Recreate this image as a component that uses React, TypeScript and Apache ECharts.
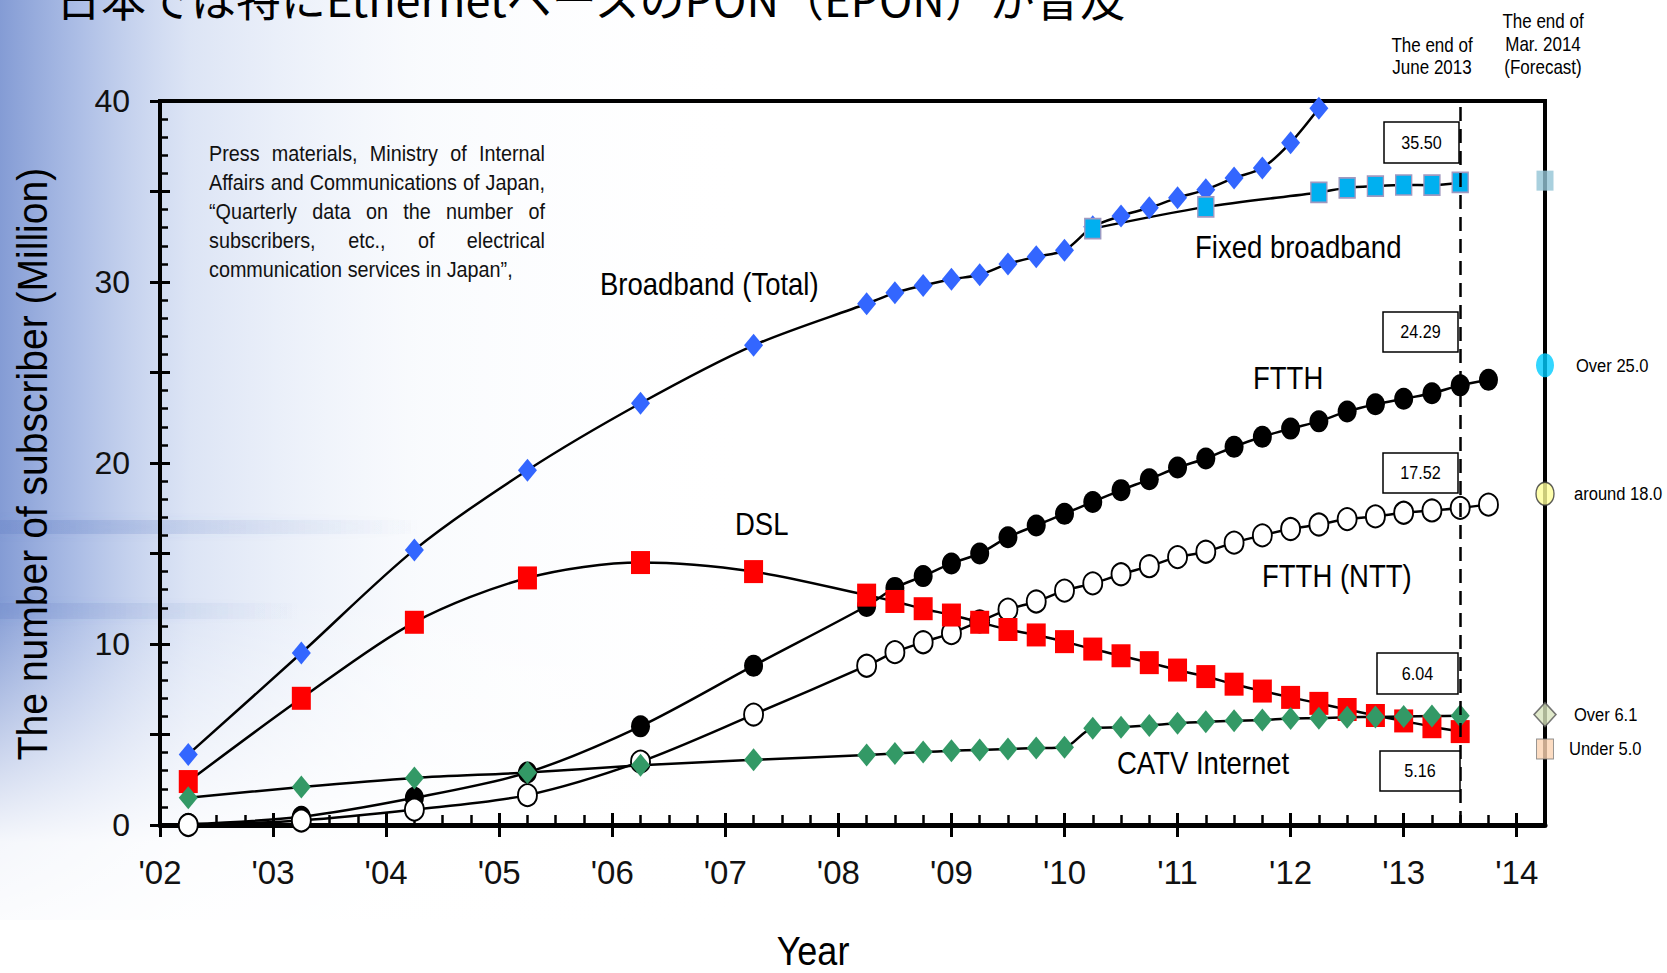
import React, { useEffect, useRef } from 'react';
import * as echarts from 'echarts';

// ---- data (values in million subscribers) ----
const quarters = [2002.25, 2003.25, 2004.25, 2005.25, 2006.25, 2007.25, 2008.25, 2008.5, 2008.75, 2009, 2009.25, 2009.5, 2009.75, 2010, 2010.25, 2010.5, 2010.75, 2011, 2011.25, 2011.5, 2011.75, 2012, 2012.25, 2012.5, 2012.75, 2013, 2013.25, 2013.5, 2013.75];

const broadbandTotal = [3.9, 9.5, 15.2, 19.6, 23.3, 26.5, 28.8, 29.4, 29.8, 30.15, 30.4, 31.0, 31.4, 31.75, 33.05, 33.65, 34.1, 34.65, 35.1, 35.75, 36.3, 37.7, 39.6];
const fixedBroadbandX = [2010.25, 2011.25, 2012.25, 2012.5, 2012.75, 2013, 2013.25, 2013.5];
const fixedBroadband = [32.95, 34.15, 34.95, 35.2, 35.3, 35.36, 35.35, 35.5];
const ftth = [0.05, 0.45, 1.5, 2.9, 5.45, 8.8, 12.1, 13.1, 13.75, 14.45, 15.0, 15.9, 16.55, 17.2, 17.85, 18.5, 19.1, 19.75, 20.25, 20.9, 21.45, 21.9, 22.3, 22.85, 23.25, 23.55, 23.85, 24.29, 24.6];
const ftthNtt = [0.0, 0.25, 0.85, 1.65, 3.5, 6.1, 8.8, 9.55, 10.1, 10.6, 11.25, 11.9, 12.35, 12.95, 13.35, 13.85, 14.3, 14.8, 15.1, 15.6, 16.0, 16.35, 16.6, 16.9, 17.05, 17.25, 17.38, 17.52, 17.7];
const dsl = [2.4, 7.0, 11.2, 13.65, 14.5, 14.0, 12.7, 12.35, 11.95, 11.6, 11.2, 10.8, 10.5, 10.13, 9.72, 9.35, 8.97, 8.56, 8.2, 7.78, 7.4, 7.05, 6.72, 6.38, 6.05, 5.75, 5.43, 5.16];
const catv = [1.5, 2.1, 2.6, 2.9, 3.3, 3.6, 3.87, 3.95, 4.03, 4.1, 4.15, 4.2, 4.25, 4.3, 5.35, 5.4, 5.5, 5.62, 5.7, 5.76, 5.8, 5.88, 5.9, 5.95, 5.97, 6.0, 6.02, 6.04];

const seriesNames = ['Broadband (Total)', 'Fixed broadband', 'FTTH', 'FTTH (NTT)', 'DSL', 'CATV Internet'];

const years = [2002, 2003, 2004, 2005, 2006, 2007, 2008, 2009, 2010, 2011, 2012, 2013, 2014];
const yearLabels = ["'02", "'03", "'04", "'05", "'06", "'07", "'08", "'09", "'10", "'11", "'12", "'13", "'14"];
const yLabelValues = [0, 10, 20, 30, 40];
const yMajorTicks = [0, 5, 10, 15, 20, 25, 30, 35, 40];

const june2013 = 2013.5;
const forecastX = 2014.25;
const forecastValues = [35.6, 25.4, 18.3, 6.1, 4.2];
const forecastLabels = ['', 'Over 25.0', 'around 18.0', 'Over 6.1', 'Under 5.0'];
const boxValues = ['35.50', '24.29', '17.52', '6.04', '5.16'];

const sourceLines = [
  'Press materials, Ministry of Internal',
  'Affairs and Communications of Japan,',
  '\u201CQuarterly data on the number of',
  'subscribers, etc., of electrical',
  'communication services in Japan\u201D,',
];
const titleText = '日本では特にEthernetベースのPON（EPON）が普及';
const yTitle = 'The number of subscriber (Million)';
const xTitle = 'Year';

const SANS = "'Liberation Sans'";

function pairs(xs: number[], ys: number[]) {
  return ys.map((v, i) => [xs[i], v]);
}

export default function App() {
  const ref = useRef<HTMLDivElement>(null);
  useEffect(() => {
    if (!ref.current) return;
    const chart = echarts.init(ref.current, undefined, { renderer: 'svg' });

    const xBase = { type: 'value', min: 2002, max: 2014.25, position: 'bottom', splitLine: { show: false } };
    const yBase = { type: 'value', min: 0, max: 40, position: 'left', splitLine: { show: false } };
    const tickLine = (w: number) => ({ color: '#000', width: w });

    const lineSeries = (name: string, data: number[][], symbol: string, size: number[], itemStyle: any) => ({
      type: 'line', name, data, smooth: 0.3, symbol, symbolSize: size, showSymbol: true,
      lineStyle: { color: '#000', width: 2.5 }, itemStyle, emphasis: { disabled: true },
    });

    const forecastSymbols = ['rect', 'circle', 'circle', 'diamond', 'rect'];
    const forecastSizes = [[17, 20], [18, 24], [18, 23], [22, 24], [17, 20]];
    const forecastStyles = [
      { color: '#93c4d6' },
      { color: '#00ccff' },
      { color: '#ffff99', borderColor: '#333', borderWidth: 1.5 },
      { color: '#d8e4bd', borderColor: '#555', borderWidth: 1.5 },
      { color: '#fbd3b3', borderColor: '#777', borderWidth: 1 },
    ];
    const forecastLabelOffset = [0, 31, 29, 29, 24];

    chart.setOption({
      animation: false,
      grid: {
        left: 160, top: 101, width: 1385, height: 724, show: true,
        borderColor: '#000', borderWidth: 4, backgroundColor: 'transparent',
        outerBoundsMode: 'none', containLabel: false,
      },
      xAxis: [
        {
          ...xBase, interval: 0.25,
          axisLine: { show: true, lineStyle: { color: '#000', width: 5 } },
          axisTick: { show: true, inside: true, length: 10, lineStyle: tickLine(2.5) },
          axisLabel: {
            customValues: years, margin: 31, color: '#111', fontFamily: SANS, fontSize: 33,
            formatter: (v: number) => yearLabels[years.indexOf(Math.round(v))] ?? '',
          },
        },
        {
          ...xBase, interval: 1, axisLine: { show: false },
          axisTick: { show: true, customValues: years, inside: false, length: 12, lineStyle: tickLine(3) },
          axisLabel: { show: false },
        },
        {
          ...xBase, interval: 1, axisLine: { show: false },
          axisTick: { show: true, customValues: years, inside: true, length: 12, lineStyle: tickLine(3) },
          axisLabel: { show: false },
        },
      ],
      yAxis: [
        {
          ...yBase, interval: 1,
          axisLine: { show: true, lineStyle: { color: '#000', width: 4 } },
          axisTick: { show: true, inside: true, length: 8, lineStyle: tickLine(2.5) },
          axisLabel: { customValues: yLabelValues, margin: 30, color: '#111', fontFamily: SANS, fontSize: 32 },
        },
        {
          ...yBase, interval: 5, axisLine: { show: false },
          axisTick: { show: true, customValues: yMajorTicks, inside: false, length: 10, lineStyle: tickLine(3) },
          axisLabel: { show: false },
        },
        {
          ...yBase, interval: 5, axisLine: { show: false },
          axisTick: { show: true, customValues: yMajorTicks, inside: true, length: 10, lineStyle: tickLine(3) },
          axisLabel: { show: false },
        },
      ],
      series: [
        lineSeries(seriesNames[0], pairs(quarters, broadbandTotal), 'diamond', [19, 23], { color: '#3366ff' }),
        lineSeries(seriesNames[1], pairs(fixedBroadbandX, fixedBroadband), 'rect', [16, 20], { color: '#00b0f0', borderColor: '#a098c0', borderWidth: 1.5 }),
        {
          ...lineSeries(seriesNames[2], pairs(quarters, ftth), 'circle', [19, 22], { color: '#000' }),
          markLine: {
            silent: true, symbol: 'none', label: { show: false },
            lineStyle: { color: '#000', width: 2.5, type: [14, 8] },
            data: [{ xAxis: june2013 }],
          },
        },
        lineSeries(seriesNames[3], pairs(quarters, ftthNtt), 'circle', [19, 22], { color: '#fff', borderColor: '#000', borderWidth: 2 }),
        lineSeries(seriesNames[4], pairs(quarters, dsl), 'rect', [19, 23], { color: '#ff0000' }),
        lineSeries(seriesNames[5], pairs(quarters, catv), 'diamond', [19, 23], { color: '#339966' }),
        {
          type: 'scatter', name: 'Forecast (Mar. 2014)', z: 5, clip: false,
          data: forecastValues.map((v, i) => ({
            value: [forecastX, v], symbol: forecastSymbols[i], symbolSize: forecastSizes[i],
            itemStyle: forecastStyles[i],
          })),
        },
      ],
    });

    // ---- annotations (graphic) ----
    const ctx = document.createElement('canvas').getContext('2d')!;
    const srcFont = `22px ${SANS}`;
    const srcScale = 0.9;
    ctx.font = srcFont;
    const srcLeft = 209;
    const srcRight = 545;
    const srcY = [153, 182, 211, 240, 269];
    const srcTexts: any[] = [];
    sourceLines.forEach((line, li) => {
      const words = line.split(' ');
      const widths = words.map((w) => ctx.measureText(w).width * srcScale);
      const total = widths.reduce((a, b) => a + b, 0);
      const last = li === sourceLines.length - 1;
      const gap = last ? ctx.measureText(' ').width * srcScale : (srcRight - srcLeft - total) / (words.length - 1);
      let x = srcLeft;
      words.forEach((w, wi) => {
        srcTexts.push({
          type: 'text', z: 50, x, y: srcY[li], scaleX: srcScale,
          style: { text: w, font: srcFont, fill: '#111', textAlign: 'left', textVerticalAlign: 'middle' },
        });
        x += widths[wi] + gap;
      });
    });

    const annotations = [
      { text: seriesNames[0], x: 600, y: 284 },
      { text: seriesNames[1], x: 1195, y: 247 },
      { text: seriesNames[2], x: 1253, y: 378 },
      { text: 'DSL', x: 735, y: 524 },
      { text: seriesNames[3], x: 1262, y: 576 },
      { text: seriesNames[5], x: 1117, y: 763 },
    ];
    const boxes = [
      { x: 1384, y: 122, w: 75, h: 41 },
      { x: 1383, y: 312, w: 75, h: 40 },
      { x: 1383, y: 453, w: 75, h: 40 },
      { x: 1377, y: 653, w: 81, h: 41 },
      { x: 1380, y: 751, w: 80, h: 40 },
    ];

    const forecastTexts = forecastValues.map((v, i) => {
      const p = chart.convertToPixel({ xAxisIndex: 0, yAxisIndex: 0 }, [forecastX, v]) as number[];
      return {
        type: 'text', z: 50, x: p[0] + forecastLabelOffset[i], y: p[1], scaleX: 0.87,
        style: { text: forecastLabels[i], font: `19px ${SANS}`, fill: '#000', textAlign: 'left', textVerticalAlign: 'middle' },
      };
    }).filter((t) => t.style.text !== '');

    const streak = (y: number, w: number, h: number, a: number) => ({
      type: 'rect', z: -98, shape: { x: 0, y, width: w, height: h },
      style: {
        fill: new echarts.graphic.LinearGradient(0, 0, 1, 0, [
          { offset: 0, color: `rgba(95,125,195,${a})` },
          { offset: 1, color: 'rgba(95,125,195,0)' },
        ]),
        shadowBlur: 8, shadowColor: `rgba(95,125,195,${a})`,
      },
    });

    const graphic: any[] = [
      {
        type: 'rect', z: -100, shape: { x: 0, y: 0, width: 760, height: 920 },
        style: {
          fill: new echarts.graphic.LinearGradient(0, 0, 1, 0, [
            { offset: 0, color: 'rgba(110,138,205,0.85)' },
            { offset: 0.1, color: 'rgba(135,160,218,0.7)' },
            { offset: 0.25, color: 'rgba(178,196,233,0.45)' },
            { offset: 0.55, color: 'rgba(220,230,246,0.18)' },
            { offset: 1, color: 'rgba(255,255,255,0)' },
          ]),
        },
      },
      {
        type: 'rect', z: -99, shape: { x: 0, y: 600, width: 760, height: 373 },
        style: {
          fill: new echarts.graphic.LinearGradient(0, 0, 0, 1, [
            { offset: 0, color: 'rgba(255,255,255,0)' },
            { offset: 0.65, color: 'rgba(255,255,255,0.92)' },
            { offset: 1, color: 'rgba(255,255,255,1)' },
          ]),
        },
      },
      streak(520, 420, 14, 0.28),
      streak(603, 300, 16, 0.22),
      {
        type: 'text', z: 50, x: 56, y: -3,
        style: { text: titleText, font: "45px 'Noto Sans CJK JP', sans-serif", fill: '#000', textAlign: 'left', textVerticalAlign: 'middle' },
      },
      {
        type: 'text', z: 50, x: 33, y: 464, rotation: Math.PI / 2, scaleX: 0.93,
        style: { text: yTitle, font: `42px ${SANS}`, fill: '#000', textAlign: 'center', textVerticalAlign: 'middle' },
      },
      {
        type: 'text', z: 50, x: 813, y: 951, scaleX: 0.9,
        style: { text: xTitle, font: `40px ${SANS}`, fill: '#000', textAlign: 'center', textVerticalAlign: 'middle' },
      },
      {
        type: 'text', z: 50, x: 1432, y: 56, scaleX: 0.85,
        style: { text: 'The end of\nJune 2013', font: `20px ${SANS}`, lineHeight: 22, fill: '#000', textAlign: 'center', textVerticalAlign: 'middle' },
      },
      {
        type: 'text', z: 50, x: 1543, y: 44, scaleX: 0.85,
        style: { text: 'The end of\nMar. 2014\n(Forecast)', font: `20px ${SANS}`, lineHeight: 23, fill: '#000', textAlign: 'center', textVerticalAlign: 'middle' },
      },
      ...annotations.map((a) => ({
        type: 'text', z: 50, x: a.x, y: a.y, scaleX: 0.86,
        style: { text: a.text, font: `32px ${SANS}`, fill: '#000', textAlign: 'left', textVerticalAlign: 'middle' },
      })),
      ...boxes.map((b, i) => ({
        type: 'group', z: 60,
        children: [
          { type: 'rect', z: 60, shape: { x: b.x, y: b.y, width: b.w, height: b.h }, style: { fill: '#fff', stroke: '#000', lineWidth: 1.5 } },
          { type: 'text', z: 61, x: b.x + b.w / 2, y: b.y + b.h / 2, scaleX: 0.85, style: { text: boxValues[i], font: `19px ${SANS}`, fill: '#000', textAlign: 'center', textVerticalAlign: 'middle' } },
        ],
      })),
      ...forecastTexts,
      ...srcTexts,
    ];
    chart.setOption({ graphic });

    return () => chart.dispose();
  }, []);
  return <div ref={ref} style={{ position: 'absolute', left: 0, top: 0, width: 1667, height: 973, background: '#fff' }} />;
}
